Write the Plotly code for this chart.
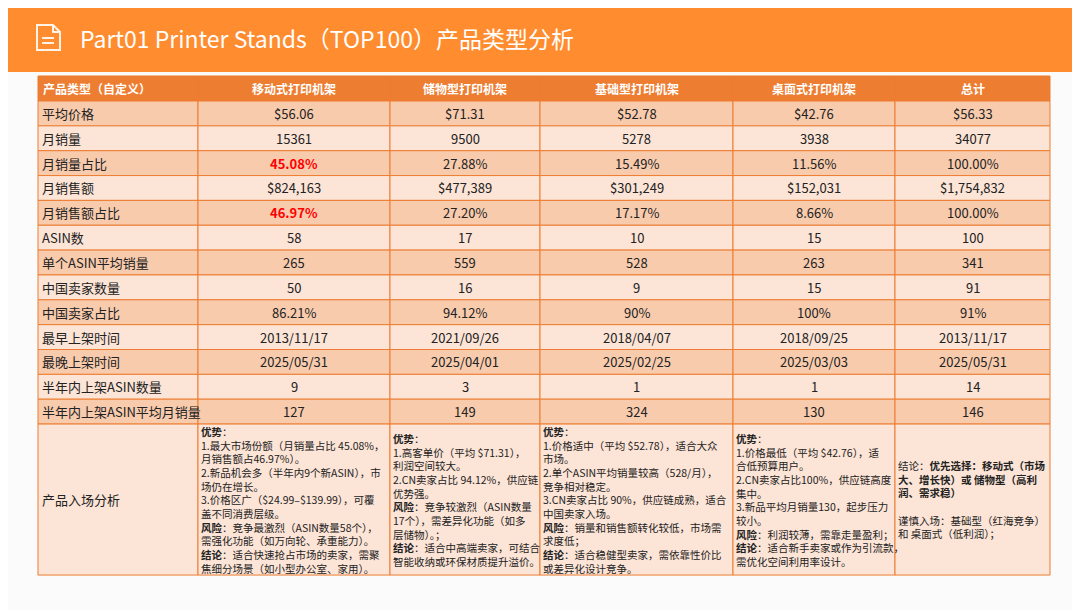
import plotly.graph_objects as go

header = ['产品类型（自定义）', '移动式打印机架', '储物型打印机架', '基础型打印机架', '桌面式打印机架', '总计']

row_names = ['平均价格', '月销量', '月销量占比', '月销售额', '月销售额占比', 'ASIN数', '单个ASIN平均销量',
             '中国卖家数量', '中国卖家占比', '最早上架时间', '最晚上架时间', '半年内上架ASIN数量',
             '半年内上架ASIN平均月销量']

mobile = ['$56.06', '15361', '45.08%', '$824,163', '46.97%', '58', '265', '50', '86.21%',
          '2013/11/17', '2025/05/31', '9', '127']
storage = ['$71.31', '9500', '27.88%', '$477,389', '27.20%', '17', '559', '16', '94.12%',
           '2021/09/26', '2025/04/01', '3', '149']
basic = ['$52.78', '5278', '15.49%', '$301,249', '17.17%', '10', '528', '9', '90%',
         '2018/04/07', '2025/02/25', '1', '324']
desktop = ['$42.76', '3938', '11.56%', '$152,031', '8.66%', '15', '263', '15', '100%',
           '2018/09/25', '2025/03/03', '1', '130']
total = ['$56.33', '34077', '100.00%', '$1,754,832', '100.00%', '100', '341', '91', '91%',
         '2013/11/17', '2025/05/31', '14', '146']

analysis_label = '产品入场分析'
analysis = [
    '<b>优势</b>：<br>1.最大市场份额（月销量占比 45.08%，<br>月销售额占46.97%）。<br>2.新品机会多（半年内9个新ASIN），市<br>场仍在增长。<br>3.价格区广（$24.99–$139.99），可覆<br>盖不同消费层级。<br><b>风险</b>：竞争最激烈（ASIN数量58个），<br>需强化功能（如万向轮、承重能力）。<br><b>结论</b>：适合快速抢占市场的卖家，需聚<br>焦细分场景（如小型办公室、家用）。',
    '<b>优势</b>：<br>1.高客单价（平均 $71.31），<br>利润空间较大。<br>2.CN卖家占比 94.12%，供应链<br>优势强。<br><b>风险</b>：竞争较激烈（ASIN数量<br>17个），需差异化功能（如多<br>层储物）。；<br><b>结论</b>：适合中高端卖家，可结合<br>智能收纳或环保材质提升溢价。',
    '<b>优势</b>：<br>1.价格适中（平均 $52.78），适合大众<br>市场。<br>2.单个ASIN平均销量较高（528/月），<br>竞争相对稳定。<br>3.CN卖家占比 90%，供应链成熟，适合<br>中国卖家入场。<br><b>风险</b>：销量和销售额转化较低，市场需<br>求度低；<br><b>结论</b>：适合稳健型卖家，需依靠性价比<br>或差异化设计竞争。',
    '<b>优势</b>：<br>1.价格最低（平均 $42.76），适<br>合低预算用户。<br>2.CN卖家占比100%，供应链高度<br>集中。<br>3.新品平均月销量130，起步压力<br>较小。<br><b>风险</b>：利润较薄，需靠走量盈利；<br><b>结论</b>：适合新手卖家或作为引流款，<br>需优化空间利用率设计。',
    '结论：<b>优先选择：移动式（市场<br>大、增长快）或 储物型（高利<br>润、需求稳）</b><br><br>谨慎入场：基础型（红海竞争）<br>和 桌面式（低利润）；',
]

columns = [mobile, storage, basic, desktop, total]
highlight = {(2, 0), (4, 0)}

col_edges = [38, 198, 390, 540, 733, 895, 1050]
top = 76
head_h = 25
row_h = 24.85
last_h = 151

ORANGE = '#ED7D31'
DARK = '#F8CBAD'
LIGHT = '#FCE4D6'
FONT = 'Noto Sans CJK SC'

shapes = []
annotations = []


def cell(x0, x1, y0, y1, fill):
    shapes.append(dict(type='rect', x0=x0, x1=x1, y0=y0, y1=y1, fillcolor=fill,
                       line=dict(color=ORANGE, width=1), layer='below'))


# banner
shapes.append(dict(type='rect', x0=-20, x1=1100, y0=-20, y1=72, fillcolor='#FF8C2E', line_width=0, layer='below'))
shapes.append(dict(type='path', path='M 37 25 L 53 25 L 60 32 L 60 50 L 37 50 Z',
                   line=dict(color='#FFF2E6', width=2), fillcolor='rgba(0,0,0,0)'))
shapes.append(dict(type='path', path='M 53 25 L 53 32 L 60 32',
                   line=dict(color='#FFF2E6', width=2), fillcolor='rgba(0,0,0,0)'))
shapes.append(dict(type='line', x0=42, x1=54, y0=38, y1=38, line=dict(color='#FFF2E6', width=2)))
shapes.append(dict(type='line', x0=42, x1=54, y0=43, y1=43, line=dict(color='#FFF2E6', width=2)))
annotations.append(dict(x=78, y=38, text='Part01 Printer Stands（TOP100）产品类型分析', showarrow=False,
                        xanchor='left', yanchor='middle', font=dict(size=23, color='white', family=FONT)))

# header
for j, h in enumerate(header):
    x0, x1 = col_edges[j], col_edges[j + 1]
    cell(x0, x1, top, top + head_h, ORANGE)
    annotations.append(dict(x=x0 + 3 if j == 0 else (x0 + x1) / 2, y=top + head_h / 2, text='<b>%s</b>' % h,
                            showarrow=False, xanchor='left' if j == 0 else 'center', yanchor='middle',
                            font=dict(size=12, color='white', family=FONT)))

# data rows
for i, name in enumerate(row_names):
    y0 = top + head_h + i * row_h
    y1 = y0 + row_h
    fill = DARK if i % 2 == 0 else LIGHT
    cell(col_edges[0], col_edges[1], y0, y1, fill)
    annotations.append(dict(x=col_edges[0] + 2, y=(y0 + y1) / 2, text=name, showarrow=False,
                            xanchor='left', yanchor='middle', font=dict(size=13, color='#222', family=FONT)))
    for j, col in enumerate(columns):
        x0, x1 = col_edges[j + 1], col_edges[j + 2]
        cell(x0, x1, y0, y1, fill)
        red = (i, j) in highlight
        annotations.append(dict(x=(x0 + x1) / 2, y=(y0 + y1) / 2,
                                text='<b>%s</b>' % col[i] if red else col[i], showarrow=False,
                                xanchor='center', yanchor='middle',
                                font=dict(size=13, color='#FF0000' if red else '#222', family=FONT)))

# analysis row
y0 = top + head_h + len(row_names) * row_h
y1 = y0 + last_h
cell(col_edges[0], col_edges[1], y0, y1, LIGHT)
annotations.append(dict(x=col_edges[0] + 2, y=(y0 + y1) / 2, text=analysis_label, showarrow=False,
                        xanchor='left', yanchor='middle', font=dict(size=13, color='#222', family=FONT)))
for j, txt in enumerate(analysis):
    x0, x1 = col_edges[j + 1], col_edges[j + 2]
    cell(x0, x1, y0, y1, LIGHT)
    annotations.append(dict(x=x0 + 1, y=(y0 + y1) / 2, text=txt, showarrow=False, align='left',
                            xanchor='left', yanchor='middle',
                            font=dict(size=10.5, color='#222', family=FONT)))

fig = go.Figure()
fig.add_trace(go.Scatter(x=[0, 1080], y=[0, 610], mode='markers', marker=dict(opacity=0),
                         hoverinfo='skip', showlegend=False))
# page body has an 8px offset, so ranges are shifted to line up with the window
fig.update_layout(
    width=1080, height=610, margin=dict(l=0, r=0, t=0, b=0),
    paper_bgcolor='#FBFBFB', plot_bgcolor='#FBFBFB',
    shapes=shapes, annotations=annotations,
    xaxis=dict(range=[8, 1088], visible=False, fixedrange=True),
    yaxis=dict(range=[618, 8], visible=False, fixedrange=True),
)
fig.write_html('out.html')
